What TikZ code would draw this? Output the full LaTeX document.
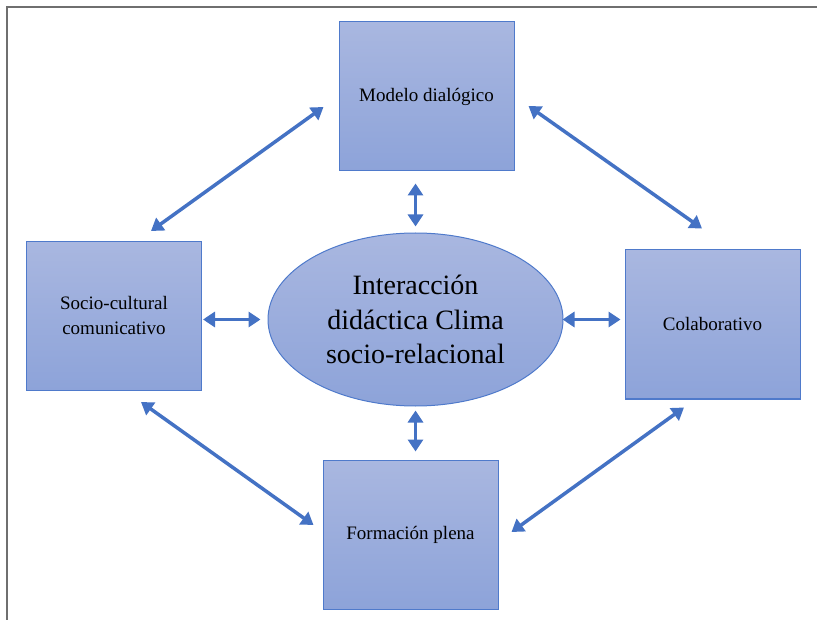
\documentclass[tikz,border=0pt]{standalone}
\usepackage{fontspec}
\setmainfont{Liberation Serif}
\usetikzlibrary{shapes.geometric, arrows.meta, positioning, calc}

\definecolor{boxtop}{HTML}{A9B7E0}
\definecolor{boxbot}{HTML}{8DA3D9}
\definecolor{boxline}{HTML}{4F7ACB}
\definecolor{arrowblue}{HTML}{4472C4}
\definecolor{framegray}{HTML}{6F6F6F}

\begin{document}
\begin{tikzpicture}[x=1pt, y=-1pt,
  caja/.style={rectangle, draw=boxline, line width=1pt, top color=boxtop, bottom color=boxbot,
    minimum width=175pt, minimum height=149pt, inner sep=0pt, align=center,
    font=\fontsize{19}{25}\selectfont},
  centro/.style={ellipse, draw=boxline, line width=1pt, top color=boxtop, bottom color=boxbot,
    minimum width=295pt, minimum height=173pt, inner sep=0pt, align=center,
    font=\fontsize{28}{34.5}\selectfont},
  doble/.style={arrowblue, line width=3.5pt,
    {Triangle[length=12pt,width=15pt]}-{Triangle[length=12pt,width=15pt]}}]

  \useasboundingbox (0,0) rectangle (817,620);
  \draw[framegray, line width=2.5pt] (7,620) -- (7,7) -- (817,7);

  \node[caja] (modelo) at (426.5,96.5) {Modelo dialógico};
  \node[caja] (socio) at (114,316) {Socio-cultural\\comunicativo};
  \node[caja] (colab) at (712.5,324.5) {Colaborativo};
  \node[caja] (formacion) at (410.5,534.5) {Formación plena};
  \node[centro] (inter) at (415.5,319.5) {Interacción\\didáctica Clima\\socio-relacional};

  \draw[doble] ($(modelo.west)+(-15,10.5)$) -- ($(socio.north)+(37,-10)$);
  \draw[doble] ($(modelo.east)+(14,9.5)$) -- ($(colab.north)+(-10.5,-21)$);
  \draw[doble] ($(socio.south)+(27,11)$) -- ($(formacion.west)+(-9,-9.5)$);
  \draw[doble] ($(colab.south)+(-28.5,8)$) -- ($(formacion.east)+(13,-2.5)$);

  \draw[doble] ($(inter.north)+(0,-6)$) -- ($(inter.north |- modelo.south)+(0,12)$);
  \draw[doble] ($(inter.south)+(0,4)$) -- ($(inter.south |- formacion.north)+(0,-8)$);
  \draw[doble] ($(inter.west -| socio.east)+(1,0)$) -- ($(inter.west)+(-7,0)$);
  \draw[doble] ($(inter.east)+(-1,0)$) -- ($(inter.east -| colab.west)+(-4,0)$);
\end{tikzpicture}
\end{document}
